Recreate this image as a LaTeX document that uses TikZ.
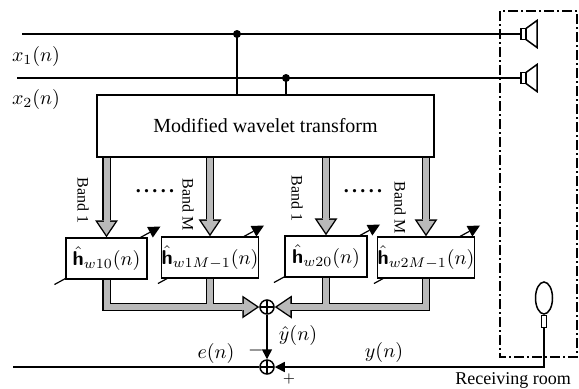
\documentclass[tikz,border=0pt]{standalone}
\usepackage{amsmath}
\usepackage{fontspec}
\setmainfont{Liberation Serif}
\usepackage{tikz}
\usetikzlibrary{arrows.meta,shapes,positioning,shapes.geometric,calc,backgrounds}
\tikzset{
sig_line/.style = {line width=0.75pt},% signal line
sig_arr/.style = {sig_line, -{Triangle[length=5pt,width=5pt]}},% signal line with tip
blk_box/.style = {draw=black, line width=0.75pt, fill=white, inner sep=0pt, align=center},% block
filt_box/.style = {blk_box, minimum height=20.5pt},% adaptive sub-band filter
band_arr/.style = {line width=3pt, draw=gray!55, line join=miter, shorten >=1.25pt,
  -{Triangle[length=6.5pt,width=8.8pt,line width=0pt]},
  preaction={draw=black, line width=4.4pt, shorten >=0pt, -{Triangle[length=8.5pt,width=11.5pt,line width=0pt]}}},% wide grey arrow
adapt_arr/.style = {line width=0.6pt, -{Triangle[length=6pt,width=6pt,line width=0pt]}},% adaptation arrow
sum_n/.style = {circle, draw=black, line width=0.75pt, fill=white, minimum size=7pt, inner sep=0pt,
  path picture={\draw [line width=0.6pt] (path picture bounding box.north) -- (path picture bounding box.south)
  (path picture bounding box.west) -- (path picture bounding box.east);}},% adder
band_lbl/.style = {font=\fontsize{8}{9}\selectfont, rotate=-90, anchor=west, inner sep=0pt},% band label
room/.style = {line width=1pt, dash pattern=on 5pt off 1.5pt on 1pt off 1.5pt},% receiving room
spk/.pic = {\draw [line width=0.75pt, fill=white] (0,-5.5) rectangle (5,5.5);
  \draw [line width=0.75pt, fill=white] (5,-5.5) -- (16,-13.5) -- (16,13.5) -- (5,5.5) -- cycle;}% loudspeaker
}
\begin{document}
\begin{tikzpicture}[x=0.5pt, y=-0.5pt]
\useasboundingbox (0,0) rectangle (579,388);
% inputs and loudspeakers
\coordinate (x1in) at (22,34);
\coordinate (x2in) at (17,78);
\coordinate (spk1) at (521,34);
\coordinate (spk2) at (521,78);
\coordinate (d1) at (237,34);
\coordinate (d2) at (286,78);
\draw [sig_line] (x1in) -- (spk1);
\draw [sig_line] (x2in) -- (spk2);
\fill (d1) circle (2pt);
\fill (d2) circle (2pt);
\pic at (spk1) {spk};
\pic at (spk2) {spk};
\node (x1lbl) at (36,56) {$x_1(n)$};
\node (x2lbl) at (36,99) {$x_2(n)$};
% wavelet transform
\node [blk_box, minimum width=168.5pt, minimum height=31pt] (wt) at (265.5,126) {Modified wavelet transform};
\draw [sig_line] (d1) -- (d1 |- wt.north);
\draw [sig_line] (d2) -- (d2 |- wt.north);
% sub-band filters
\node [filt_box, minimum width=40.5pt] (f10) at (106.5,258.5) {$\hat{\textbf{\textsf{h}}}_{w10}(n)$};
\node [filt_box, minimum width=48pt] (f1M) at (210,257.5) {$\hat{\textbf{\textsf{h}}}_{w1M-1}(n)$};
\node [filt_box, minimum width=41pt] (f20) at (326,256.5) {$\hat{\textbf{\textsf{h}}}_{w20}(n)$};
\node [filt_box, minimum width=47pt] (f2M) at (426,257.5) {$\hat{\textbf{\textsf{h}}}_{w2M-1}(n)$};
\begin{scope}[on background layer]
\foreach \f in {f10,f1M,f20,f2M}
  \draw [adapt_arr] ($(\f.center)+(-52,26)$) -- ($(\f.center)+(54,-32)$);
\end{scope}
% bands
\draw [band_arr] (f10.north |- wt.south) -- (f10.north);
\draw [band_arr] (f1M.north |- wt.south) -- (f1M.north);
\draw [band_arr] (f20.north |- wt.south) -- (f20.north);
\draw [band_arr] (f2M.north |- wt.south) -- (f2M.north);
\node [band_lbl] (b1) at (83,177) {Band 1};
\node [band_lbl] (b2) at (188,178) {Band M};
\node [band_lbl] (b3) at (297,175) {Band 1};
\node [band_lbl] (b4) at (400,181) {Band M};
\node (dots1) at (155,191) {\textbf{.\,.\,.\,.\,.}};
\node (dots2) at (363,191) {\textbf{.\,.\,.\,.\,.}};
% adders
\node [sum_n] (s1) at (267,307) {};
\node [sum_n] (s2) at (267,367) {};
\draw [band_arr] (f1M.south) -- (f1M.south |- s1) (f10.south) |- (s1);
\draw [band_arr] (f20.south) -- (f20.south |- s1) (f2M.south) |- (s1);
\draw [sig_arr] (s1) -- (s2);
\node [inner sep=1pt] (yhat) at (298,335) {$\hat{y}(n)$};
\node [inner sep=0pt] (minus) at (256,350) {$-$};
\node [font=\scriptsize, inner sep=0pt] (plus) at (289,379) {$+$};
% receiving room
\draw [room] (500,11) rectangle (577,357);
\node [anchor=east, font=\fontsize{9}{10}\selectfont] (roomlbl) at (578,380) {Receiving room};
\node [ellipse, draw, line width=0.75pt, fill=white, minimum width=8.5pt, minimum height=16pt, inner sep=0pt] (mic) at (544,298) {};
\node [draw, line width=0.6pt, minimum width=2.5pt, minimum height=6pt, inner sep=0pt, below=0pt of mic] (stem) {};
\draw [sig_arr] (stem.south) |- (s2);
\coordinate (eout) at (13,367);
\draw [sig_line] (s2) -- (eout);
\node (elbl) at (216,353) {$e(n)$};
\node (ylbl) at (384,352) {$y(n)$};
\end{tikzpicture}
\end{document}
